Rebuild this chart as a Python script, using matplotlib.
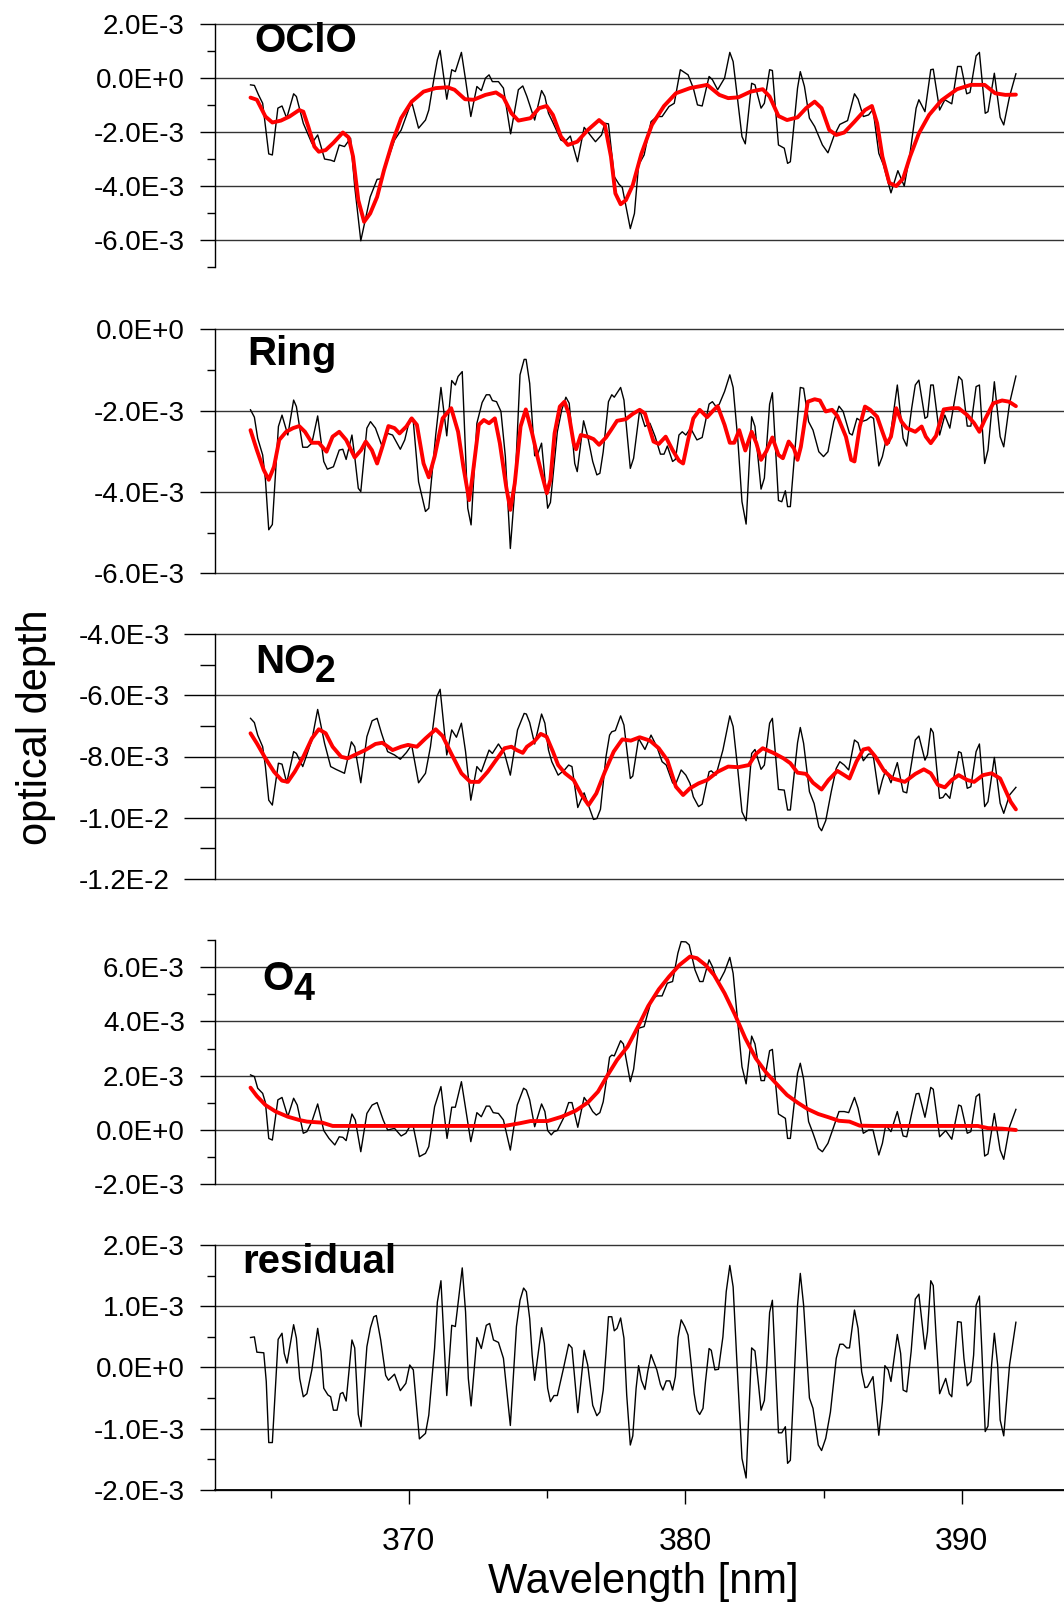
# coding: UTF-8
# DOAS fit result plot: OClO, Ring, NO2, O4 and residual (optical depth vs wavelength)

import numpy as np
import matplotlib
matplotlib.use("Agg")
import matplotlib.pyplot as plt
from matplotlib.ticker import MultipleLocator, FuncFormatter

plt.rcParams['font.family'] = ['Liberation Sans', 'DejaVu Sans']

# ---- data (wavelength [nm], optical depth [1E-3]) ----
oclo_meas = [
    (364.27, -0.26), (364.41, -0.28), (364.56, -0.63), (364.71, -0.94), (364.93, -2.81),
    (365.06, -2.85), (365.26, -1.12), (365.41, -1.04), (365.58, -1.49), (365.83, -0.59),
    (365.93, -0.69), (366.18, -1.68), (366.49, -2.42), (366.70, -2.11), (366.95, -3.00),
    (367.17, -3.04), (367.30, -3.09), (367.48, -2.48), (367.67, -2.54), (367.89, -2.23),
    (368.04, -4.02), (368.26, -6.02), (368.60, -4.40), (368.85, -3.75), (369.01, -3.73),
    (369.23, -3.04), (369.48, -2.30), (369.72, -1.93), (370.03, -1.06), (370.12, -0.96),
    (370.35, -1.86), (370.60, -1.56), (370.72, -1.19), (370.91, -0.01), (371.03, 0.67),
    (371.13, 1.01), (371.37, -0.79), (371.55, 0.30), (371.68, 0.23), (371.90, 0.94),
    (372.05, -0.07), (372.24, -1.43), (372.46, -0.32), (372.62, -0.47), (372.77, -0.01),
    (372.90, 0.11), (373.02, -0.14), (373.24, -0.14), (373.42, -0.38), (373.68, -2.07),
    (373.96, -0.44), (374.12, -0.30), (374.27, -0.69), (374.55, -1.56), (374.80, -0.47),
    (374.92, -0.69), (375.05, -1.31), (375.21, -1.65), (375.50, -2.30), (375.65, -2.36),
    (375.84, -2.15), (376.10, -3.10), (376.34, -1.83), (376.75, -2.36), (376.97, -2.11),
    (377.09, -1.68), (377.22, -1.70), (377.43, -3.65), (377.60, -3.93), (377.72, -4.05),
    (378.01, -5.57), (378.16, -5.01), (378.31, -3.22), (378.51, -2.85), (378.76, -1.62),
    (378.97, -1.43), (379.16, -1.43), (379.41, -1.06), (379.60, -0.94), (379.82, 0.30),
    (380.10, 0.11), (380.29, -0.38), (380.44, -1.00), (380.61, -1.04), (380.86, 0.05),
    (380.98, -0.07), (381.17, -0.44), (381.42, -0.01), (381.61, 0.94), (381.73, 0.60),
    (382.05, -2.17), (382.17, -2.44), (382.40, -0.20), (382.52, -0.26), (382.74, -1.12),
    (382.86, -0.94), (383.05, 0.30), (383.15, 0.27), (383.37, -2.48), (383.58, -2.60),
    (383.70, -3.16), (383.80, -3.10), (384.06, -0.38), (384.16, 0.23), (384.31, -0.32),
    (384.49, -1.49), (384.68, -1.80), (384.96, -2.48), (385.16, -2.77), (385.37, -2.17),
    (385.59, -1.72), (385.87, -1.58), (386.12, -0.59), (386.25, -0.79), (386.44, -1.43),
    (386.63, -1.37), (386.79, -1.16), (387.00, -2.79), (387.17, -3.22), (387.44, -4.25),
    (387.69, -3.43), (387.92, -4.00), (388.13, -2.79), (388.35, -1.12), (388.45, -0.81),
    (388.67, -1.25), (388.88, 0.30), (388.97, 0.32), (389.20, -1.19), (389.39, -0.81),
    (389.64, -0.96), (389.85, 0.42), (389.98, 0.42), (390.18, -0.59), (390.30, -0.54),
    (390.52, 0.81), (390.64, 0.94), (390.85, -1.31), (390.95, -1.25), (391.18, 0.17),
    (391.39, -1.46), (391.52, -1.74), (391.73, -0.69), (391.96, 0.15),
]
oclo_fit = [
    (364.27, -0.73), (364.50, -0.81), (364.81, -1.43), (365.06, -1.65), (365.37, -1.58),
    (365.68, -1.43), (366.03, -1.19), (366.18, -1.25), (366.36, -1.80), (366.58, -2.54),
    (366.74, -2.73), (366.99, -2.67), (367.27, -2.40), (367.61, -2.02), (367.82, -2.20),
    (367.98, -2.91), (368.17, -4.52), (368.38, -5.32), (368.60, -5.01), (368.85, -4.40),
    (369.10, -3.41), (369.41, -2.36), (369.72, -1.49), (370.10, -0.88), (370.53, -0.51),
    (370.97, -0.38), (371.40, -0.35), (371.65, -0.44), (372.03, -0.79), (372.34, -0.81),
    (372.77, -0.63), (373.15, -0.54), (373.42, -0.72), (373.71, -1.31), (373.96, -1.58),
    (374.40, -1.49), (374.71, -1.12), (374.98, -1.04), (375.21, -1.37), (375.50, -2.17),
    (375.75, -2.48), (376.09, -2.36), (376.47, -1.93), (376.88, -1.56), (377.09, -1.74),
    (377.31, -2.91), (377.47, -4.27), (377.66, -4.67), (377.85, -4.52), (378.10, -3.96),
    (378.41, -2.81), (378.79, -1.74), (379.23, -1.04), (379.66, -0.57), (380.17, -0.38),
    (380.79, -0.26), (381.23, -0.63), (381.55, -0.75), (381.92, -0.72), (382.36, -0.51),
    (382.80, -0.42), (383.05, -0.69), (383.37, -1.41), (383.68, -1.56), (384.06, -1.46),
    (384.37, -1.12), (384.68, -0.88), (384.93, -1.12), (385.21, -1.93), (385.46, -2.11),
    (385.75, -2.02), (386.12, -1.62), (386.50, -1.19), (386.75, -1.04), (386.94, -1.68),
    (387.13, -2.91), (387.38, -3.88), (387.63, -4.00), (387.88, -3.72), (388.13, -2.91),
    (388.45, -2.05), (388.82, -1.37), (389.26, -0.84), (389.83, -0.42), (390.33, -0.26),
    (390.83, -0.26), (391.21, -0.57), (391.58, -0.63), (391.96, -0.62),
]

ring_meas = [
    (364.27, -1.98), (364.41, -2.16), (364.53, -2.68), (364.71, -3.09), (364.81, -3.70),
    (364.93, -4.93), (365.06, -4.80), (365.28, -2.39), (365.41, -2.11), (365.62, -2.60),
    (365.83, -1.74), (365.93, -1.90), (366.16, -2.90), (366.33, -2.90), (366.49, -2.80),
    (366.70, -2.13), (366.92, -3.25), (367.05, -3.44), (367.27, -3.38), (367.48, -2.97),
    (367.61, -2.95), (367.73, -3.20), (367.94, -2.60), (368.04, -3.13), (368.17, -3.91),
    (368.26, -3.99), (368.48, -2.43), (368.61, -2.27), (368.79, -2.43), (369.01, -2.84),
    (369.23, -2.56), (369.41, -2.60), (369.69, -2.95), (369.85, -2.72), (370.03, -2.21),
    (370.16, -2.27), (370.35, -3.75), (370.60, -4.48), (370.72, -4.40), (370.97, -2.60),
    (371.16, -1.43), (371.37, -2.62), (371.55, -1.26), (371.68, -1.37), (371.78, -1.16),
    (371.93, -1.04), (372.13, -4.40), (372.25, -4.81), (372.46, -2.31), (372.65, -1.80),
    (372.80, -1.61), (372.92, -1.61), (373.02, -1.75), (373.17, -1.78), (373.33, -2.02),
    (373.49, -3.13), (373.67, -5.39), (373.83, -3.95), (374.02, -1.12), (374.17, -0.74),
    (374.24, -0.74), (374.37, -1.33), (374.55, -3.11), (374.65, -3.09), (374.80, -2.80),
    (375.02, -4.40), (375.12, -4.26), (375.37, -2.52), (375.53, -1.98), (375.68, -1.67),
    (375.80, -1.82), (376.00, -3.30), (376.09, -3.50), (376.32, -2.25), (376.47, -2.64),
    (376.65, -3.25), (376.80, -3.58), (376.91, -3.54), (377.03, -3.01), (377.22, -1.78),
    (377.34, -1.61), (377.43, -1.67), (377.66, -1.43), (377.78, -1.74), (378.01, -3.42),
    (378.13, -3.17), (378.35, -1.98), (378.54, -2.39), (378.72, -2.31), (378.91, -2.64),
    (379.10, -3.07), (379.23, -3.07), (379.35, -2.87), (379.54, -3.25), (379.64, -3.20),
    (379.77, -2.60), (379.89, -2.52), (380.02, -2.60), (380.19, -2.43), (380.42, -2.72),
    (380.61, -2.66), (380.86, -1.84), (380.98, -1.78), (381.11, -1.90), (381.23, -1.84),
    (381.42, -1.53), (381.61, -1.12), (381.73, -1.43), (381.90, -2.72), (382.05, -4.24),
    (382.20, -4.79), (382.40, -2.15), (382.52, -2.39), (382.74, -3.93), (382.86, -3.66),
    (383.05, -1.84), (383.15, -1.56), (383.37, -4.21), (383.49, -4.24), (383.62, -3.97),
    (383.70, -4.36), (383.80, -4.36), (384.06, -2.19), (384.16, -1.43), (384.28, -1.45),
    (384.46, -2.27), (384.62, -2.48), (384.83, -3.01), (385.00, -3.13), (385.16, -3.01),
    (385.37, -2.27), (385.56, -1.89), (385.71, -2.02), (385.94, -2.56), (386.04, -2.60),
    (386.21, -2.19), (386.38, -2.27), (386.56, -2.23), (386.71, -2.15), (386.81, -2.19),
    (387.00, -3.36), (387.13, -3.13), (387.25, -2.76), (387.38, -2.80), (387.67, -1.37),
    (387.88, -2.68), (388.01, -2.87), (388.19, -1.94), (388.32, -1.37), (388.45, -1.25),
    (388.67, -2.19), (388.76, -2.15), (388.88, -1.37), (388.97, -1.37), (389.20, -2.60),
    (389.39, -2.11), (389.57, -2.43), (389.89, -1.16), (390.01, -1.25), (390.20, -2.38),
    (390.33, -2.38), (390.52, -1.41), (390.64, -1.37), (390.83, -3.30), (390.95, -2.97),
    (391.18, -1.29), (391.39, -2.64), (391.52, -2.89), (391.73, -1.82), (391.96, -1.15),
]
ring_fit = [
    (364.27, -2.48), (364.50, -2.97), (364.75, -3.46), (364.93, -3.70), (365.12, -3.38),
    (365.31, -2.72), (365.56, -2.52), (365.81, -2.43), (366.03, -2.38), (366.24, -2.52),
    (366.49, -2.79), (366.74, -2.79), (367.02, -3.01), (367.24, -2.64), (367.48, -2.52),
    (367.73, -2.72), (368.04, -3.15), (368.27, -2.97), (368.44, -2.76), (368.66, -2.97),
    (368.85, -3.30), (369.04, -2.89), (369.26, -2.38), (369.48, -2.43), (369.66, -2.56),
    (369.91, -2.39), (370.10, -2.19), (370.29, -2.35), (370.53, -3.30), (370.72, -3.64),
    (370.93, -3.13), (371.22, -2.19), (371.53, -1.94), (371.78, -2.52), (371.97, -3.38),
    (372.18, -4.20), (372.30, -3.62), (372.53, -2.35), (372.71, -2.23), (372.90, -2.31),
    (373.11, -2.19), (373.29, -2.80), (373.52, -3.87), (373.67, -4.44), (373.83, -3.79),
    (374.04, -2.39), (374.23, -1.97), (374.46, -2.56), (374.65, -3.13), (374.80, -3.54),
    (374.99, -4.03), (375.12, -3.70), (375.27, -2.56), (375.46, -1.90), (375.63, -1.78),
    (375.78, -2.07), (375.96, -2.80), (376.05, -2.95), (376.22, -2.60), (376.47, -2.64),
    (376.68, -2.70), (376.88, -2.84), (377.13, -2.66), (377.31, -2.48), (377.53, -2.25),
    (377.85, -2.21), (378.10, -2.08), (378.35, -1.98), (378.54, -2.07), (378.85, -2.76),
    (379.04, -2.82), (379.29, -2.64), (379.54, -2.97), (379.77, -3.23), (379.92, -3.30),
    (380.10, -2.72), (380.29, -2.19), (380.52, -1.98), (380.79, -2.16), (380.98, -2.02),
    (381.17, -1.89), (381.42, -2.35), (381.61, -2.79), (381.77, -2.79), (381.95, -2.48),
    (382.17, -2.98), (382.40, -2.52), (382.57, -2.80), (382.74, -3.21), (382.93, -3.00),
    (383.15, -2.66), (383.37, -3.09), (383.53, -3.17), (383.74, -2.76), (383.93, -2.93),
    (384.06, -3.21), (384.18, -2.89), (384.43, -1.78), (384.68, -1.72), (384.87, -1.75),
    (385.08, -2.02), (385.31, -1.98), (385.50, -2.13), (385.81, -2.64), (386.00, -3.21),
    (386.12, -3.25), (386.31, -2.39), (386.50, -1.90), (386.69, -1.98), (386.94, -2.15),
    (387.13, -2.52), (387.29, -2.82), (387.44, -2.64), (387.63, -1.94), (387.82, -2.27),
    (388.01, -2.43), (388.32, -2.52), (388.55, -2.39), (388.70, -2.64), (388.88, -2.80),
    (389.07, -2.62), (389.35, -1.97), (389.64, -1.94), (389.89, -1.94), (390.20, -2.11),
    (390.45, -2.31), (390.64, -2.52), (390.83, -2.23), (391.14, -1.82), (391.46, -1.75),
    (391.71, -1.78), (391.96, -1.89),
]

no2_meas = [
    (364.27, -6.75), (364.41, -6.89), (364.53, -7.30), (364.71, -7.68), (364.81, -8.33),
    (364.93, -9.43), (365.06, -9.59), (365.28, -8.22), (365.41, -8.25), (365.58, -8.86),
    (365.83, -7.84), (365.93, -7.90), (366.16, -8.33), (366.49, -7.46), (366.70, -6.46),
    (366.95, -7.57), (367.17, -8.33), (367.36, -8.42), (367.67, -8.55), (367.92, -7.52),
    (368.04, -7.68), (368.26, -8.86), (368.48, -7.35), (368.67, -6.83), (368.85, -6.75),
    (369.01, -7.24), (369.23, -7.84), (369.48, -7.95), (369.69, -8.09), (369.91, -7.87),
    (370.10, -7.62), (370.35, -8.86), (370.60, -8.55), (370.78, -7.68), (371.01, -6.04),
    (371.13, -5.80), (371.37, -7.95), (371.55, -7.13), (371.72, -7.37), (371.90, -6.91),
    (372.05, -7.84), (372.24, -9.43), (372.46, -8.33), (372.62, -8.50), (372.90, -7.79),
    (373.02, -7.90), (373.24, -7.59), (373.46, -7.90), (373.67, -8.61), (373.93, -7.13),
    (374.17, -6.59), (374.25, -6.61), (374.37, -6.89), (374.55, -7.59), (374.80, -6.61),
    (374.92, -6.91), (375.05, -7.79), (375.17, -8.17), (375.40, -8.61), (375.63, -8.44),
    (375.78, -8.28), (375.90, -8.33), (376.11, -9.67), (376.34, -9.19), (376.48, -9.56),
    (376.68, -10.06), (376.80, -10.03), (376.93, -9.73), (377.13, -8.01), (377.26, -7.30),
    (377.34, -7.19), (377.47, -7.15), (377.66, -6.67), (377.78, -6.97), (378.01, -8.72),
    (378.10, -8.64), (378.31, -7.41), (378.54, -7.77), (378.76, -7.30), (378.97, -7.68),
    (379.16, -8.17), (379.31, -8.28), (379.54, -8.86), (379.64, -8.93), (379.85, -8.44),
    (380.02, -8.61), (380.17, -8.88), (380.29, -9.32), (380.48, -9.64), (380.61, -9.56),
    (380.86, -8.50), (380.94, -8.47), (381.11, -8.61), (381.36, -7.79), (381.61, -6.67),
    (381.73, -7.02), (381.90, -8.44), (382.05, -9.81), (382.20, -10.10), (382.40, -7.90),
    (382.52, -7.77), (382.74, -8.42), (382.86, -8.28), (383.05, -6.91), (383.15, -6.75),
    (383.37, -9.08), (383.58, -9.10), (383.70, -9.75), (383.80, -9.75), (384.06, -7.55),
    (384.16, -7.05), (384.28, -7.57), (384.49, -9.15), (384.66, -9.54), (384.83, -10.30),
    (384.93, -10.43), (385.08, -10.10), (385.28, -9.15), (385.46, -8.39), (385.59, -8.17),
    (385.75, -8.28), (385.91, -8.44), (386.12, -7.46), (386.25, -7.55), (386.44, -8.14),
    (386.63, -7.92), (386.79, -7.92), (387.00, -9.23), (387.13, -8.77), (387.25, -8.44),
    (387.44, -8.86), (387.67, -8.20), (387.88, -9.15), (388.01, -9.19), (388.32, -7.46),
    (388.45, -7.33), (388.67, -8.12), (388.76, -7.95), (388.88, -7.08), (388.97, -7.22),
    (389.20, -9.37), (389.32, -9.34), (389.42, -9.21), (389.57, -9.37), (389.89, -7.84),
    (389.98, -7.88), (390.20, -9.04), (390.33, -8.99), (390.52, -7.84), (390.64, -7.59),
    (390.83, -9.64), (390.95, -9.48), (391.18, -8.03), (391.39, -9.53), (391.52, -9.86),
    (391.73, -9.26), (391.96, -9.01),
]
no2_fit = [
    (364.27, -7.24), (364.50, -7.57), (364.81, -8.06), (365.12, -8.50), (365.41, -8.79),
    (365.62, -8.83), (365.87, -8.50), (366.18, -8.01), (366.49, -7.41), (366.74, -7.11),
    (366.99, -7.24), (367.24, -7.68), (367.55, -8.01), (367.79, -8.06), (368.04, -7.95),
    (368.42, -7.79), (368.79, -7.59), (369.04, -7.55), (369.41, -7.79), (369.72, -7.68),
    (369.97, -7.62), (370.29, -7.68), (370.60, -7.41), (370.97, -7.11), (371.22, -7.33),
    (371.53, -7.90), (371.90, -8.55), (372.22, -8.83), (372.53, -8.83), (372.85, -8.50),
    (373.15, -8.12), (373.46, -7.73), (373.71, -7.68), (373.90, -7.79), (374.12, -7.88),
    (374.27, -7.68), (374.52, -7.52), (374.77, -7.26), (374.98, -7.35), (375.21, -7.84),
    (375.40, -8.28), (375.65, -8.55), (375.96, -8.77), (376.25, -9.26), (376.50, -9.59),
    (376.78, -9.21), (377.09, -8.50), (377.41, -7.84), (377.72, -7.44), (378.03, -7.48),
    (378.35, -7.37), (378.72, -7.48), (379.04, -7.73), (379.35, -8.12), (379.66, -8.99),
    (379.92, -9.26), (380.17, -9.04), (380.48, -8.88), (380.79, -8.77), (381.17, -8.50),
    (381.55, -8.33), (381.92, -8.35), (382.30, -8.28), (382.55, -7.92), (382.80, -7.73),
    (383.18, -7.88), (383.55, -8.06), (383.80, -8.22), (384.06, -8.53), (384.37, -8.57),
    (384.62, -8.86), (384.93, -9.08), (385.18, -8.77), (385.50, -8.47), (385.75, -8.61),
    (385.94, -8.72), (386.19, -8.17), (386.44, -7.77), (386.63, -7.73), (386.88, -8.01),
    (387.19, -8.47), (387.50, -8.72), (387.94, -8.83), (388.32, -8.57), (388.63, -8.42),
    (388.88, -8.55), (389.14, -8.93), (389.39, -9.01), (389.64, -8.77), (389.89, -8.61),
    (390.20, -8.77), (390.45, -8.83), (390.77, -8.61), (391.08, -8.55), (391.39, -8.72),
    (391.58, -9.10), (391.77, -9.48), (391.96, -9.73),
]

o4_meas = [
    (364.27, 2.03), (364.41, 1.97), (364.53, 1.54), (364.71, 1.35), (364.81, 1.01),
    (364.93, -0.31), (365.06, -0.37), (365.26, 1.11), (365.41, 1.20), (365.62, 0.49),
    (365.83, 1.17), (365.96, 0.92), (366.18, -0.12), (366.31, -0.06), (366.49, 0.31),
    (366.70, 0.96), (366.92, -0.02), (367.11, -0.31), (367.32, -0.55), (367.48, -0.25),
    (367.61, -0.27), (367.73, -0.39), (367.94, 0.59), (368.06, 0.37), (368.26, -0.80),
    (368.48, 0.61), (368.67, 0.92), (368.85, 1.01), (369.07, 0.37), (369.23, 0.00),
    (369.48, 0.06), (369.72, -0.22), (369.89, -0.12), (370.06, 0.18), (370.16, 0.12),
    (370.38, -0.98), (370.60, -0.86), (370.72, -0.61), (370.93, 0.86), (371.16, 1.60),
    (371.38, -0.31), (371.55, 0.84), (371.68, 0.84), (371.90, 1.78), (372.05, 0.80),
    (372.24, -0.43), (372.46, 0.64), (372.62, 0.49), (372.80, 0.88), (372.92, 0.88),
    (373.05, 0.64), (373.24, 0.61), (373.42, 0.37), (373.67, -0.74), (373.92, 0.92),
    (374.15, 1.54), (374.25, 1.47), (374.37, 1.11), (374.55, 0.12), (374.80, 0.96),
    (374.92, 0.68), (375.02, -0.02), (375.15, -0.18), (375.25, -0.06), (375.37, -0.02),
    (375.59, 0.43), (375.78, 1.01), (375.90, 1.01), (376.11, 0.10), (376.34, 1.20),
    (376.47, 1.01), (376.65, 0.68), (376.78, 0.55), (376.91, 0.64), (377.03, 1.04),
    (377.13, 1.72), (377.26, 2.68), (377.34, 2.76), (377.43, 2.73), (377.66, 3.29),
    (377.76, 3.17), (378.01, 1.78), (378.13, 2.24), (378.31, 3.75), (378.51, 3.81),
    (378.64, 4.30), (378.79, 4.82), (378.97, 4.94), (379.16, 4.94), (379.35, 5.41),
    (379.54, 5.47), (379.73, 6.51), (379.85, 6.94), (380.02, 6.93), (380.14, 6.82),
    (380.35, 5.90), (380.52, 5.47), (380.64, 5.47), (380.86, 6.27), (380.98, 6.02),
    (381.14, 5.50), (381.23, 5.47), (381.42, 5.84), (381.61, 6.36), (381.73, 5.77),
    (381.90, 3.93), (382.05, 2.33), (382.20, 1.70), (382.40, 3.46), (382.52, 3.17),
    (382.74, 1.82), (382.86, 1.82), (383.05, 2.92), (383.15, 2.97), (383.37, 0.59),
    (383.62, 0.43), (383.70, -0.31), (383.80, -0.31), (384.06, 2.09), (384.16, 2.46),
    (384.28, 1.87), (384.46, 0.31), (384.62, -0.12), (384.81, -0.68), (384.96, -0.80),
    (385.16, -0.49), (385.37, 0.12), (385.56, 0.68), (385.75, 0.68), (385.91, 0.64),
    (386.12, 1.20), (386.25, 0.80), (386.44, -0.12), (386.63, 0.00), (386.79, 0.00),
    (387.00, -0.92), (387.13, -0.49), (387.25, 0.18), (387.44, -0.06), (387.67, 0.68),
    (387.88, -0.22), (388.01, -0.25), (388.19, 0.61), (388.35, 1.33), (388.45, 1.35),
    (388.67, 0.47), (388.88, 1.57), (388.97, 1.50), (389.20, -0.25), (389.42, -0.02),
    (389.64, -0.34), (389.89, 0.92), (389.98, 0.88), (390.20, -0.12), (390.33, -0.06),
    (390.52, 1.23), (390.64, 1.33), (390.83, -0.96), (390.95, -0.88), (391.18, 0.61),
    (391.39, -0.74), (391.52, -1.08), (391.73, 0.12), (391.96, 0.76),
]
o4_fit = [
    (364.27, 1.56), (364.50, 1.25), (364.81, 0.92), (365.18, 0.68), (365.62, 0.49),
    (366.03, 0.37), (366.31, 0.31), (366.87, 0.27), (367.24, 0.15), (368.50, 0.15),
    (370.00, 0.15), (371.50, 0.15), (373.00, 0.15), (373.46, 0.15), (374.02, 0.25),
    (374.40, 0.33), (375.02, 0.33), (375.53, 0.49), (376.03, 0.71), (376.47, 1.01),
    (376.84, 1.41), (377.16, 1.97), (377.53, 2.58), (377.91, 3.07), (378.29, 3.81),
    (378.66, 4.57), (379.04, 5.18), (379.41, 5.65), (379.79, 6.08), (380.17, 6.39),
    (380.42, 6.33), (380.73, 6.08), (381.04, 5.71), (381.42, 5.04), (381.80, 4.24),
    (382.17, 3.38), (382.55, 2.64), (382.93, 2.11), (383.30, 1.70), (383.68, 1.29),
    (384.06, 1.01), (384.43, 0.77), (384.81, 0.59), (385.18, 0.47), (385.56, 0.34),
    (385.94, 0.31), (386.31, 0.16), (386.81, 0.15), (388.00, 0.15), (389.50, 0.15),
    (390.58, 0.15), (390.95, 0.07), (391.46, 0.05), (391.96, 0.00),
]

residual = [
    (364.27, 0.49), (364.41, 0.50), (364.50, 0.25), (364.75, 0.24), (364.84, -0.23),
    (364.93, -1.23), (365.06, -1.23), (365.27, 0.46), (365.41, 0.56), (365.49, 0.23),
    (365.59, 0.07), (365.83, 0.70), (365.93, 0.48), (366.05, -0.18), (366.18, -0.48),
    (366.31, -0.43), (366.49, -0.04), (366.70, 0.64), (366.82, 0.26), (366.92, -0.34),
    (367.07, -0.45), (367.17, -0.48), (367.27, -0.70), (367.40, -0.70), (367.52, -0.43),
    (367.61, -0.41), (367.73, -0.55), (367.94, 0.45), (368.04, 0.32), (368.17, -0.77),
    (368.27, -0.97), (368.48, 0.34), (368.61, 0.65), (368.73, 0.83), (368.82, 0.85),
    (368.98, 0.45), (369.16, -0.13), (369.26, -0.21), (369.48, -0.11), (369.69, -0.38),
    (369.89, -0.26), (370.03, 0.04), (370.16, -0.04), (370.38, -1.17), (370.60, -1.08),
    (370.72, -0.78), (370.93, 0.32), (371.03, 1.07), (371.16, 1.42), (371.37, -0.46),
    (371.55, 0.69), (371.68, 0.67), (371.93, 1.63), (372.05, 0.91), (372.15, -0.18),
    (372.25, -0.63), (372.46, 0.49), (372.62, 0.31), (372.80, 0.69), (372.92, 0.72),
    (373.06, 0.45), (373.24, 0.41), (373.42, 0.15), (373.67, -0.95), (373.89, 0.67),
    (374.02, 1.10), (374.15, 1.30), (374.25, 1.24), (374.37, 0.80), (374.46, 0.20),
    (374.55, -0.21), (374.80, 0.65), (374.90, 0.39), (375.02, -0.34), (375.12, -0.56),
    (375.25, -0.46), (375.37, -0.46), (375.59, -0.02), (375.78, 0.38), (375.90, 0.32),
    (376.11, -0.74), (376.34, 0.28), (376.47, 0.04), (376.65, -0.62), (376.80, -0.79),
    (376.91, -0.73), (377.03, -0.37), (377.13, 0.23), (377.22, 0.83), (377.34, 0.83),
    (377.43, 0.60), (377.53, 0.64), (377.66, 0.81), (377.78, 0.48), (377.88, -0.45),
    (378.01, -1.27), (378.10, -1.12), (378.22, -0.34), (378.31, 0.03), (378.41, -0.21),
    (378.54, -0.36), (378.64, -0.07), (378.76, 0.21), (378.97, -0.04), (379.10, -0.28),
    (379.19, -0.37), (379.31, -0.22), (379.44, -0.22), (379.54, -0.37), (379.64, -0.15),
    (379.74, 0.49), (379.85, 0.78), (379.98, 0.67), (380.10, 0.53), (380.19, 0.15),
    (380.32, -0.43), (380.42, -0.70), (380.52, -0.77), (380.64, -0.67), (380.73, -0.23),
    (380.86, 0.31), (380.94, 0.28), (381.07, -0.04), (381.20, -0.03), (381.36, 0.50),
    (381.48, 1.24), (381.61, 1.67), (381.73, 1.32), (381.86, 0.15), (382.05, -1.49),
    (382.20, -1.81), (382.40, 0.32), (382.52, 0.27), (382.65, -0.29), (382.74, -0.70),
    (382.86, -0.54), (382.95, 0.04), (383.05, 0.90), (383.15, 1.10), (383.37, -1.07),
    (383.49, -1.07), (383.62, -0.97), (383.70, -1.57), (383.80, -1.52), (384.06, 1.02),
    (384.16, 1.54), (384.28, 1.02), (384.49, -0.50), (384.62, -0.67), (384.81, -1.27),
    (384.93, -1.36), (385.08, -1.16), (385.25, -0.73), (385.46, 0.15), (385.59, 0.38),
    (385.71, 0.38), (385.84, 0.32), (385.94, 0.32), (386.12, 0.94), (386.25, 0.64),
    (386.38, -0.07), (386.50, -0.33), (386.59, -0.32), (386.79, -0.15), (387.00, -1.11),
    (387.13, -0.56), (387.22, 0.03), (387.34, -0.04), (387.44, -0.23), (387.67, 0.54),
    (387.79, 0.23), (387.88, -0.37), (388.01, -0.40), (388.17, 0.26), (388.32, 1.12),
    (388.45, 1.20), (388.67, 0.30), (388.76, 0.58), (388.88, 1.42), (388.97, 1.34),
    (389.07, 0.53), (389.20, -0.43), (389.42, -0.18), (389.55, -0.43), (389.64, -0.48),
    (389.85, 0.75), (389.98, 0.74), (390.08, 0.15), (390.20, -0.30), (390.33, -0.23),
    (390.43, 0.20), (390.52, 1.02), (390.64, 1.17), (390.73, 0.26), (390.85, -1.05),
    (390.95, -0.96), (391.08, 0.04), (391.18, 0.56), (391.30, 0.04), (391.39, -0.86),
    (391.52, -1.12), (391.73, 0.04), (391.96, 0.74),
]

# panel: (title, subscript, measured, fit, ylim [1E-3], major step [1E-3])
panels = [
    ("OClO", None, oclo_meas, oclo_fit, (-7, 2), 2),
    ("Ring", None, ring_meas, ring_fit, (-6, 0), 2),
    ("NO", "2", no2_meas, no2_fit, (-12, -4), 2),
    ("O", "4", o4_meas, o4_fit, (-2, 7), 2),
    ("residual", None, residual, None, (-2, 2), 1),
]

# ---- layout in pixels of the 1064x1602 picture ----
W, H = 1064, 1602
AX_LEFT = 215.4
axes_px = [(23.7, 267.3), (329.3, 573.3), (634.3, 878.7), (940.0, 1184.3), (1245.3, 1489.6)]
title_px = [(254, 51.5), (247, 365), (255, 673), (262, 990), (242, 1273)]
sub_px = [None, None, (315, 681.5), (293, 999.5), None]


def sci_fmt(v, pos):
    s = "%.1E" % v
    mant, ex = s.split("E")
    return "%sE%+d" % (mant, int(ex))


fig = plt.figure(figsize=(W / 100, H / 100), dpi=100)

axes = []
for i, (name, sub, meas, fit, ylim, step) in enumerate(panels):
    top, bot = axes_px[i]
    ax = fig.add_axes([AX_LEFT / W, 1 - bot / H, 1 - AX_LEFT / W, (bot - top) / H])
    axes.append(ax)

    wl, val = zip(*meas)
    ax.plot(wl, np.array(val) * 1e-3, color="black", lw=1.0, zorder=3)
    if fit is not None:
        wf, vf = zip(*fit)
        ax.plot(wf, np.array(vf) * 1e-3, color="#ff0000", lw=2.8, zorder=4,
                solid_joinstyle="round", solid_capstyle="round")

    ax.set_xlim(363.0, 393.7)
    ax.set_ylim(ylim[0] * 1e-3, ylim[1] * 1e-3)
    ax.yaxis.set_major_locator(MultipleLocator(step * 1e-3))
    ax.yaxis.set_minor_locator(MultipleLocator(step * 0.5e-3))
    ax.yaxis.set_major_formatter(FuncFormatter(sci_fmt))

    long_ticks = (name == "NO")
    ax.tick_params(axis="y", which="major", direction="out",
                   length=22 if long_ticks else 11, width=1.0, pad=11, labelsize=20)
    ax.tick_params(axis="y", which="minor", direction="out",
                   length=11 if long_ticks else 5.8, width=1.0)

    ax.grid(True, axis="y", which="major", color="#333333", lw=1.0)
    for gl in ax.get_ygridlines():
        gl.set_clip_on(False)
    for side in ("top", "right"):
        ax.spines[side].set_visible(False)
    ax.spines["left"].set_linewidth(1.0)

    if i < len(panels) - 1:
        ax.spines["bottom"].set_visible(False)
        ax.tick_params(axis="x", which="both", bottom=False, labelbottom=False)
    else:
        ax.spines["bottom"].set_linewidth(1.3)
        ax.xaxis.set_major_locator(MultipleLocator(10))
        ax.xaxis.set_minor_locator(MultipleLocator(5))
        ax.tick_params(axis="x", which="major", direction="out", length=10, width=1.0,
                       pad=17, labelsize=23)
        ax.tick_params(axis="x", which="minor", direction="out", length=5.8, width=1.0)

    tx, ty = title_px[i]
    fig.text(tx / W, 1 - ty / H, name, fontsize=29, fontweight="bold",
             ha="left", va="baseline")
    if sub_px[i] is not None:
        sx, sy = sub_px[i]
        fig.text(sx / W, 1 - sy / H, sub, fontsize=27, fontweight="bold",
                 ha="left", va="baseline")

fig.text(643.5 / W, 1 - 1593 / H, "Wavelength [nm]", fontsize=30,
         ha="center", va="baseline")
fig.text(36 / W, 1 - 727 / H, "optical depth", fontsize=30, rotation=90,
         ha="center", va="center")

fig.savefig("out.png", dpi=100)
